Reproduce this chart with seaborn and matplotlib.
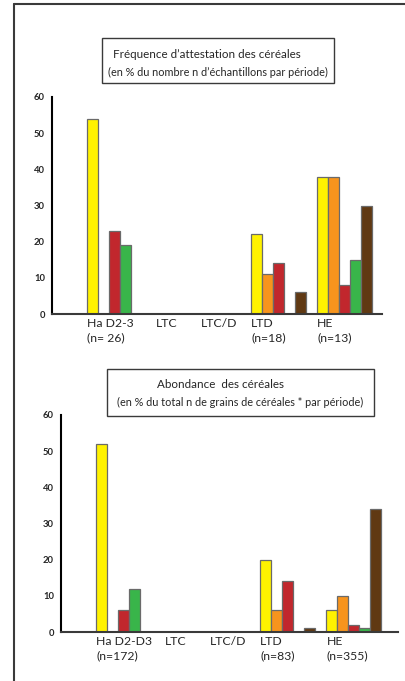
import matplotlib
matplotlib.use("Agg")
import matplotlib.pyplot as plt
from matplotlib.patches import Rectangle
from matplotlib.lines import Line2D
import pandas as pd
import seaborn as sns

# ---------------------------------------------------------------------------
# Data
# ---------------------------------------------------------------------------
periods = ["Ha D2-3", "LTC", "LTC/D", "LTD", "HE"]
cereals = ["jaune", "orange", "rouge", "vert", "brun"]
cereal_colors = ["#FFF200", "#F7941D", "#C1272D", "#39B54A", "#603913"]

freq_labels = ["Ha D2-3\n(n= 26)", "LTC", "LTC/D", "LTD\n(n=18)", "HE\n(n=13)"]
abund_labels = ["Ha D2-D3\n(n=172)", "LTC", "LTC/D", "LTD\n(n=83)", "HE\n(n=355)"]

# Fréquence d'attestation (% des échantillons), one list per cereal, by period
freq_jaune = [54, 0, 0, 22, 38]
freq_orange = [0, 0, 0, 11, 38]
freq_rouge = [23, 0, 0, 14, 8]
freq_vert = [19, 0, 0, 0, 15]
freq_brun = [0, 0, 0, 6, 30]

# Abondance (% du total de grains), one list per cereal, by period
abund_jaune = [52, 0, 0, 20, 6]
abund_orange = [0, 0, 0, 6, 10]
abund_rouge = [6, 0, 0, 14, 2]
abund_vert = [12, 0, 0, 0, 1]
abund_brun = [0, 0, 0, 1, 34]

# left edge of each period group, in bar-width units
group_left = [3.2, 9.4, 13.5, 18.1, 24.1]


def to_long(series):
    rows = []
    for ci, (cereal, vals) in enumerate(zip(cereals, series)):
        for pi, v in enumerate(vals):
            if v > 0:
                rows.append({"period": periods[pi], "cereal": cereal,
                             "x": group_left[pi] + ci + 0.5, "value": v})
    return pd.DataFrame(rows)


df_freq = to_long([freq_jaune, freq_orange, freq_rouge, freq_vert, freq_brun])
df_abund = to_long([abund_jaune, abund_orange, abund_rouge, abund_vert, abund_brun])

# ---------------------------------------------------------------------------
# Figure
# ---------------------------------------------------------------------------
sns.set_theme(style="white")
plt.rcParams["font.family"] = ["Lato", "DejaVu Sans"]

W, H = 406, 681
fig = plt.figure(figsize=(W / 100, H / 100), dpi=100)
palette = dict(zip(cereals, cereal_colors))


def px_axes(left, top, right, bottom):
    return fig.add_axes([left / W, 1 - bottom / H, (right - left) / W, (bottom - top) / H])


def draw_panel(ax, df, labels, xmax):
    sns.barplot(data=df, x="x", y="value", hue="cereal", hue_order=cereals,
                palette=palette, saturation=1, native_scale=True, dodge=False,
                width=1.0, edgecolor="#6a6a6a", linewidth=0.9, errorbar=None,
                legend=False, ax=ax)
    ax.set_xlim(0, xmax)
    ax.set_ylim(0, 60)
    ax.set_yticks(range(0, 61, 10))
    ax.set_xticks(group_left)
    ax.set_xticklabels(labels, ha="left", fontsize=8.8, linespacing=1.3)
    ax.set_xlabel("")
    ax.set_ylabel("")
    ax.tick_params(axis="x", length=0, pad=3)
    ax.tick_params(axis="y", direction="in", length=3, width=1.2,
                   labelsize=6.8, pad=5, color="black")
    for t in ax.get_yticklabels():
        t.set_fontweight("bold")
    sns.despine(ax=ax)
    ax.spines["left"].set_color("black")
    ax.spines["left"].set_linewidth(1.5)
    ax.spines["bottom"].set_color("#3a3a3a")
    ax.spines["bottom"].set_linewidth(1.5)
    ax.grid(False)


def title_box(x0, y0, x1, y1, line1, p1, line2, p2):
    fig.add_artist(Rectangle((x0 / W, 1 - y1 / H), (x1 - x0) / W, (y1 - y0) / H,
                             transform=fig.transFigure, fill=False,
                             edgecolor="#3a3a3a", linewidth=1.0))
    fig.text(p1[0] / W, 1 - p1[1] / H, line1, ha="center", va="center", fontsize=8.4)
    fig.text(p2[0] / W, 1 - p2[1] / H, line2, ha="center", va="center", fontsize=7.8)


ax_top = px_axes(52, 97, 382, 314)
draw_panel(ax_top, df_freq, freq_labels, 30.0)

ax_bot = px_axes(61, 415, 398, 632)
draw_panel(ax_bot, df_abund, abund_labels, 30.6)

title_box(102, 38, 334, 83,
          "Fréquence d\u2019attestation des céréales", (207, 54),
          "(en % du nombre n d\u2019échantillons par période)", (218, 72))
title_box(107, 369, 374, 416,
          "Abondance  des céréales", (221, 384),
          "(en % du total n de grains de céréales * par période)", (240, 402))

# page frame (left and top edges)
fig.add_artist(Line2D([14 / W, 14 / W], [0, 1 - 4 / H], transform=fig.transFigure,
                      color="#3a3a3a", linewidth=1.5))
fig.add_artist(Line2D([14 / W, 1.0], [1 - 4 / H, 1 - 4 / H], transform=fig.transFigure,
                      color="#3a3a3a", linewidth=1.5))

fig.savefig("out.png", dpi=100)
plt.close(fig)
